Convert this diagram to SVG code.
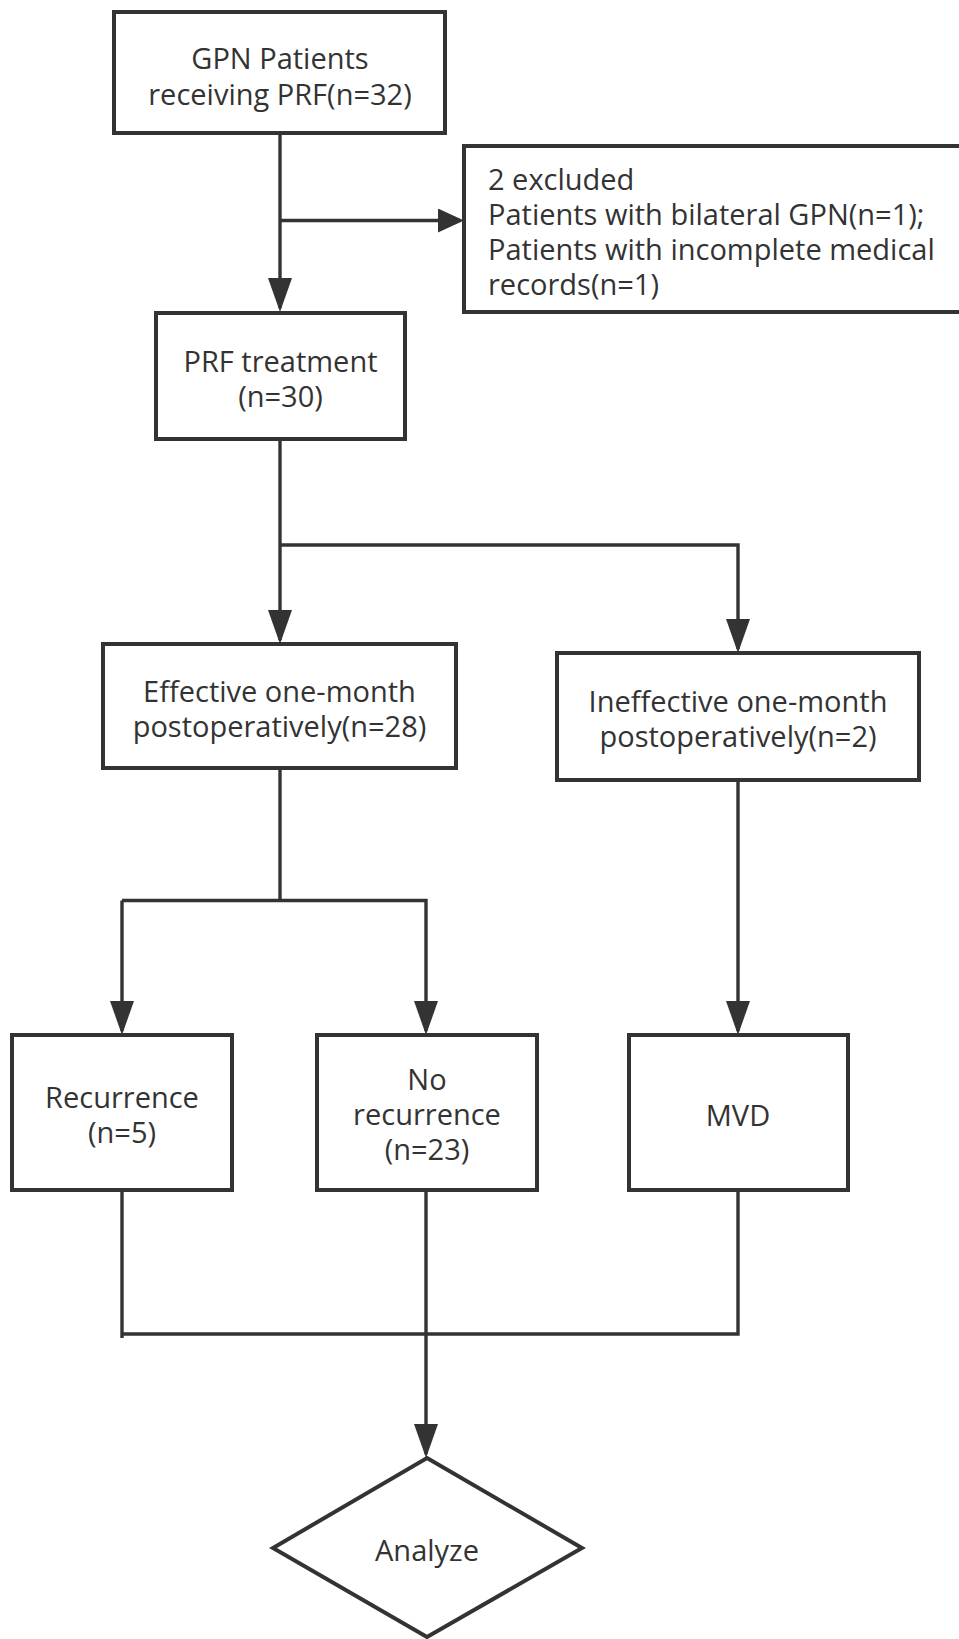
<svg xmlns="http://www.w3.org/2000/svg" width="959" height="1639" viewBox="0 0 959 1639">
<defs>
<style>
.box{fill:#fff;stroke:#333;stroke-width:4}
.ln{fill:none;stroke:#333;stroke-width:3.4}
.t{font-family:"Open Sans","Noto Sans",sans-serif;font-size:29px;fill:#333;text-anchor:middle}
.tl{text-anchor:start}
</style>
<marker id="ad" markerUnits="userSpaceOnUse" markerWidth="34" markerHeight="24" viewBox="0 0 34 24" refX="30" refY="12" orient="auto">
<path d="M0,0 L34,12 L0,24 Z" fill="#333"/>
</marker>
<marker id="ar" markerUnits="userSpaceOnUse" markerWidth="26" markerHeight="24" viewBox="0 0 26 24" refX="22" refY="12" orient="auto">
<path d="M0,0 L26,12 L0,24 Z" fill="#333"/>
</marker>
</defs>
<rect width="959" height="1639" fill="#fff"/>
<g id="connectors">
<path class="ln" d="M280,133 V308" marker-end="url(#ad)"/>
<path class="ln" d="M280,220.5 H460" marker-end="url(#ar)"/>
<path class="ln" d="M280,439 V640" marker-end="url(#ad)"/>
<path class="ln" d="M280,545 H738 V649" marker-end="url(#ad)"/>
<path class="ln" d="M280,768 V900.5"/>
<path class="ln" d="M122,900.5 V1031" marker-end="url(#ad)"/>
<path class="ln" d="M122,900.5 H426 V1031" marker-end="url(#ad)"/>
<path class="ln" d="M738,780 V1031" marker-end="url(#ad)"/>
<path class="ln" d="M122,1190 V1338"/>
<path class="ln" d="M738,1190 V1334 H122"/>
<path class="ln" d="M426,1190 V1454" marker-end="url(#ad)"/>
</g>
<g id="n-start">
<rect class="box" x="114" y="12" width="331" height="121"/>
<text class="t" x="280" y="69">GPN Patients</text>
<text class="t" x="280" y="105">receiving PRF(n=32)</text>
</g>
<g id="n-excluded">
<rect class="box" x="464" y="146" width="520" height="166"/>
<text class="t tl" x="488" y="190">2 excluded</text>
<text class="t tl" x="488" y="225">Patients with bilateral GPN(n=1);</text>
<text class="t tl" x="488" y="260">Patients with incomplete medical</text>
<text class="t tl" x="488" y="295">records(n=1)</text>
</g>
<g id="n-prf">
<rect class="box" x="156" y="313" width="249" height="126"/>
<text class="t" x="280.5" y="372">PRF treatment</text>
<text class="t" x="280.5" y="407">(n=30)</text>
</g>
<g id="n-effective">
<rect class="box" x="103" y="644" width="353" height="124"/>
<text class="t" x="279.5" y="702">Effective one-month</text>
<text class="t" x="279.5" y="737">postoperatively(n=28)</text>
</g>
<g id="n-ineffective">
<rect class="box" x="557" y="653" width="362" height="127"/>
<text class="t" x="738" y="712">Ineffective one-month</text>
<text class="t" x="738" y="747">postoperatively(n=2)</text>
</g>
<g id="n-recurrence">
<rect class="box" x="12" y="1035" width="220" height="155"/>
<text class="t" x="122" y="1108">Recurrence</text>
<text class="t" x="122" y="1143">(n=5)</text>
</g>
<g id="n-norecurrence">
<rect class="box" x="317" y="1035" width="220" height="155"/>
<text class="t" x="427" y="1090">No</text>
<text class="t" x="427" y="1125">recurrence</text>
<text class="t" x="427" y="1160">(n=23)</text>
</g>
<g id="n-mvd">
<rect class="box" x="629" y="1035" width="219" height="155"/>
<text class="t" x="738" y="1126">MVD</text>
</g>
<g id="n-analyze">
<polygon class="box" points="427,1458 582,1548 427,1637 273,1548"/>
<text class="t" x="427" y="1561">Analyze</text>
</g>
</svg>
